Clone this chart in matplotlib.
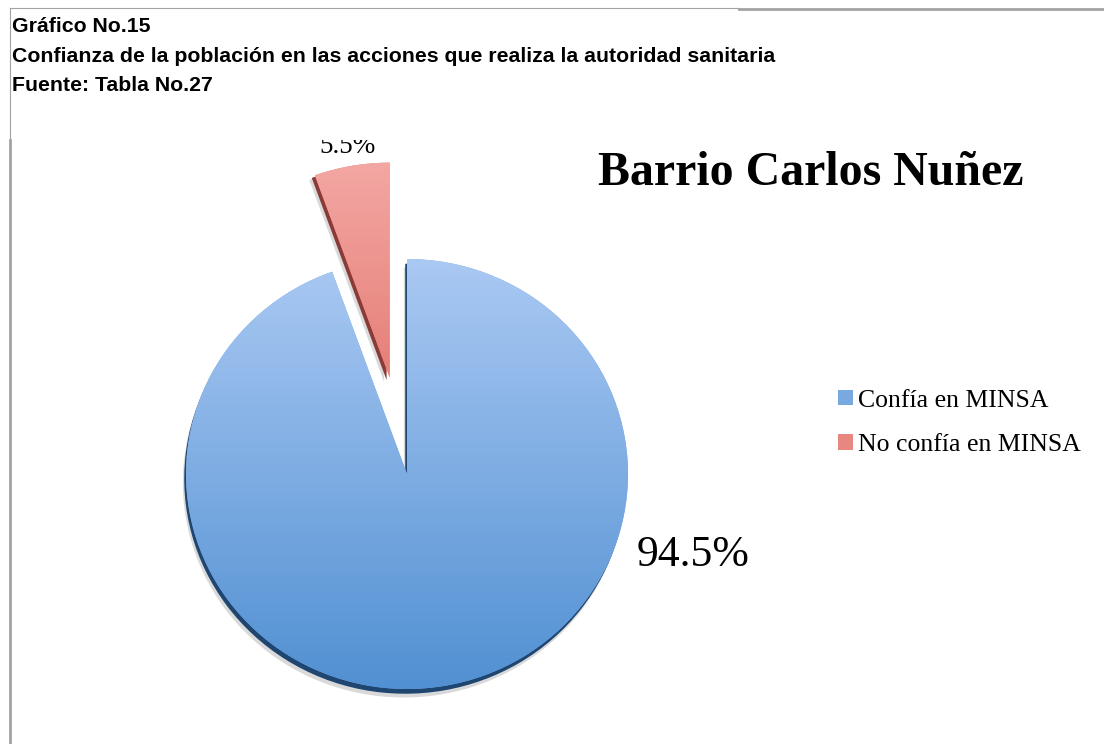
import numpy as np
import matplotlib
matplotlib.use('Agg')
from matplotlib import pyplot as plt
from matplotlib.patches import Wedge
from matplotlib.lines import Line2D
from matplotlib.colors import LinearSegmentedColormap

# Survey results, percent of respondents
categories = ['Confía en MINSA', 'No confía en MINSA']
percentages = [94.5, 5.5]
header_lines = ['Gráfico No.15',
                'Confianza de la población en las acciones que realiza la autoridad sanitaria',
                'Fuente: Tabla No.27']
chart_title = 'Barrio Carlos Nuñez'

# light (top) and dark (bottom) shade of each slice
top_colors = ['#aac9f3', '#f3a7a3']
bottom_colors = ['#5190d2', '#d9574d']
mid_colors = ['#7aa9e2', '#e88680']
shadow_colors = ['#1f4670', '#8a3b37']

W, H = 1104, 744
fig = plt.figure(figsize=(W / 100, H / 100), dpi=100)
fig.patch.set_facecolor('white')

# pie area: everything below the header, 221 px per unit across, 215 px per unit down
cx, cy = 407, 474
sx, sy = 221, 215
ax = fig.add_axes([10 / W, 0, (W - 10) / W, (H - 140) / H])
wedges, _ = ax.pie(percentages, colors=mid_colors, startangle=90, counterclock=False,
                   explode=[0, 0.455], wedgeprops=dict(linewidth=0))
ax.set_aspect('auto')
ax.axis('off')

shadow_offsets = [(-0.008, -0.022), (-0.014, -0.012)]
grad = np.linspace(1, 0, 256).reshape(-1, 1)
for w, c_top, c_bot, c_sh, off in zip(wedges, top_colors, bottom_colors, shadow_colors, shadow_offsets):
    x0, y0 = w.center
    # soft grey drop shadow + dark rim
    soft = Wedge((x0 + off[0] * 1.8, y0 + off[1] * 1.8), w.r, w.theta1, w.theta2,
                 color='#000000', alpha=0.15, linewidth=0, zorder=0.5)
    rim = Wedge((x0 + off[0], y0 + off[1]), w.r, w.theta1, w.theta2,
                color=c_sh, linewidth=0, zorder=0.8)
    ax.add_patch(soft)
    ax.add_patch(rim)
    w.set_zorder(1)
    cmap = LinearSegmentedColormap.from_list('shade', [c_bot, c_top])
    img = ax.imshow(grad, cmap=cmap, aspect='auto', zorder=1.2,
                    extent=(x0 - w.r, x0 + w.r, y0 - w.r, y0 + w.r))
    img.set_clip_path(w)

ax.set_xlim((10 - cx) / sx, (W - cx) / sx)
ax.set_ylim(-(H - cy) / sy, (cy - 140) / sy)

serif = ['Liberation Serif', 'DejaVu Serif']
ax.text(1.294, -0.377, f'{percentages[0]}%', ha='center', va='center',
        fontsize=31.5, family=serif, zorder=3)
ax.text(-0.267, 1.493, f'{percentages[1]}%', ha='center', va='baseline',
        fontsize=19.5, family=serif, clip_on=True, zorder=3)

fig.text(811 / W, 1 - 185 / H, chart_title, ha='center', va='baseline',
         fontsize=34.5, fontweight='bold', family=serif)

ax.legend(wedges, categories, loc='center left', bbox_to_anchor=(838 / W, 1 - 423 / H),
          bbox_transform=fig.transFigure, frameon=False, prop=dict(family=serif, size=18.5),
          handlelength=0.58, handleheight=0.58, handletextpad=0.2,
          labelspacing=0.89, borderpad=0, borderaxespad=0)

# header block
for i, line in enumerate(header_lines):
    fig.text(12 / W, 1 - (32 + 29.5 * i) / H, line, ha='left', va='baseline',
             fontsize=15.3, fontweight='bold',
             family=['Liberation Sans', 'DejaVu Sans'])

# page frame lines
grey = '#a3a3a3'
fig.add_artist(Line2D([10 / W, 739 / W], [1 - 8 / H] * 2, color=grey, lw=0.8,
                      transform=fig.transFigure))
fig.add_artist(Line2D([739 / W, 1], [1 - 8.5 / H] * 2, color=grey, lw=2.0,
                      transform=fig.transFigure))
fig.add_artist(Line2D([10 / W] * 2, [1 - 8 / H, 1 - 140 / H], color=grey, lw=0.8,
                      transform=fig.transFigure))
fig.add_artist(Line2D([10 / W] * 2, [1 - 140 / H, 0], color=grey, lw=2.0,
                      transform=fig.transFigure))

fig.savefig('out.png', dpi=100, facecolor='white')
